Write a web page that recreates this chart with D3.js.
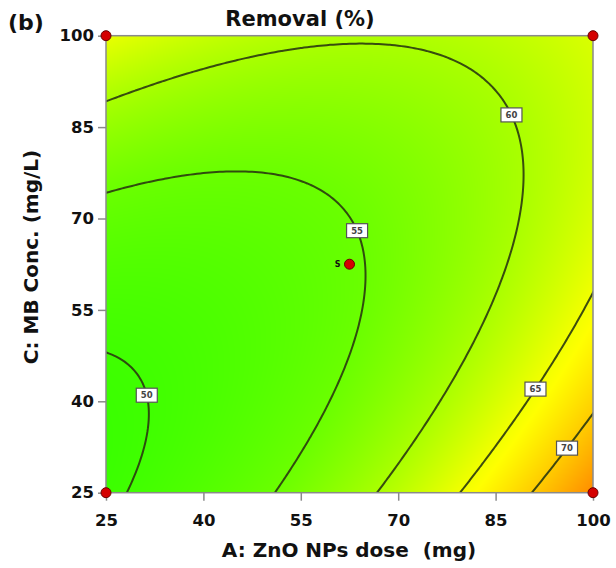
<!DOCTYPE html>
<html>
<head>
<meta charset="utf-8">
<script src="https://cdn.jsdelivr.net/npm/d3@7"></script>
<style>
  body { margin: 0; background: #fff; }
  svg { display: block; }
  text { font-family: "DejaVu Sans", sans-serif; font-weight: bold; }
</style>
</head>
<body>
<div id="area"></div>
<script>
// contour levels and axis ticks
var levels = [50, 55, 60, 65, 70];
var xTicks = [25, 40, 55, 70, 85, 100];
var yTicks = [25, 40, 55, 70, 85, 100];

// fitted quadratic model in coded units (a, c in -1..1), B held at centre
var modelTerms = ['1', 'A', 'C', 'A^2', 'C^2', 'AC'];
var modelCoef = [54.6, 6.02, 0.92, 3.6, 4.85, -6.6];

// where the level flags sit (data units, snapped to the line)
var labelA = [32.3, 64.1, 87.2, 90.7, 95.7];
var labelC = [41.0, 68.4, 87.0, 42.2, 32.5];

// design points shown on the slice
var designA = [25, 100, 25, 100, 62.5];
var designC = [25, 25, 100, 100, 62.5];
var designTag = ['', '', '', '', 'S'];

var width = 616, height = 568;
var x0 = 106, x1 = 593, y0 = 35.7, y1 = 492.7;

var x = d3.scaleLinear().domain([25, 100]).range([x0, x1]);
var y = d3.scaleLinear().domain([25, 100]).range([y1, y0]);
var coded = d3.scaleLinear().domain([25, 100]).range([-1, 1]);

function removal(A, C) {
  var a = coded(A), c = coded(C);
  var t = [1, a, c, a * a, c * c, a * c];
  var s = 0;
  for (var i = 0; i < t.length; i++) s += modelCoef[i] * t[i];
  return s;
}

var hue = d3.scaleLinear().domain([49.5, 55, 60, 65, 70, 74.7]).range([106, 95, 80, 63, 48, 33]);
function colorOf(v) {
  return d3.hsl(hue(v), 1, 0.5).rgb();
}

var svg = d3.select('#area').append('svg')
  .attr('width', width).attr('height', height);

// heat map, painted pixel by pixel then placed as an image
var cw = Math.round(x1 - x0), ch = Math.round(y1 - y0);
var canvas = document.createElement('canvas');
canvas.width = cw; canvas.height = ch;
var ctx = canvas.getContext('2d');
var img = ctx.createImageData(cw, ch);
for (var j = 0; j < ch; j++) {
  var C = y.invert(y0 + j + 0.5);
  for (var i = 0; i < cw; i++) {
    var A = x.invert(x0 + i + 0.5);
    var col = colorOf(removal(A, C));
    var k = (j * cw + i) * 4;
    img.data[k] = col.r; img.data[k + 1] = col.g; img.data[k + 2] = col.b; img.data[k + 3] = 255;
  }
}
ctx.putImageData(img, 0, 0);

svg.append('image')
  .attr('x', x0).attr('y', y0)
  .attr('width', x1 - x0).attr('height', y1 - y0)
  .attr('preserveAspectRatio', 'none')
  .attr('href', canvas.toDataURL());

svg.append('clipPath').attr('id', 'plotclip')
  .append('rect')
  .attr('x', x0).attr('y', y0)
  .attr('width', x1 - x0).attr('height', y1 - y0);

// contour lines, grid padded past the frame so no edge rings show
var g0 = 20, gStep = 0.5, gn = 171;
var values = new Array(gn * gn);
for (var j = 0; j < gn; j++) {
  for (var i = 0; i < gn; i++) {
    values[j * gn + i] = removal(g0 + i * gStep, g0 + j * gStep);
  }
}
var contours = d3.contours().size([gn, gn]).thresholds(levels)(values);

var toPlot = d3.geoTransform({
  point: function(px, py) {
    this.stream.point(x(g0 + (px - 0.5) * gStep), y(g0 + (py - 0.5) * gStep));
  }
});
var path = d3.geoPath(toPlot);

var lines = svg.append('g').attr('clip-path', 'url(#plotclip)');
lines.selectAll('path')
  .data(contours)
  .enter().append('path')
  .attr('d', path)
  .attr('fill', 'none')
  .attr('stroke', '#2a3810')
  .attr('stroke-width', 2)
  .attr('stroke-opacity', 0.9);

// level flags
var flags = svg.append('g');
levels.forEach(function(lv, li) {
  var tx = x(labelA[li]), ty = y(labelC[li]);
  var best = null, bd = Infinity;
  contours[li].coordinates.forEach(function(poly) {
    poly.forEach(function(ring) {
      ring.forEach(function(p) {
        var px = x(g0 + (p[0] - 0.5) * gStep), py = y(g0 + (p[1] - 0.5) * gStep);
        var d = (px - tx) * (px - tx) + (py - ty) * (py - ty);
        if (d < bd) { bd = d; best = [px, py]; }
      });
    });
  });
  if (!best) best = [tx, ty];
  var fg = flags.append('g').attr('transform', 'translate(' + best[0] + ',' + best[1] + ')');
  fg.append('rect')
    .attr('x', -10.5).attr('y', -7).attr('width', 21).attr('height', 14)
    .attr('fill', '#fff').attr('stroke', '#555').attr('stroke-width', 1.2);
  fg.append('text')
    .attr('text-anchor', 'middle').attr('dy', '0.35em')
    .attr('font-size', '8.5px').attr('font-weight', 'normal')
    .attr('fill', '#444')
    .text(lv);
});

// frame
svg.append('rect')
  .attr('x', x0).attr('y', y0)
  .attr('width', x1 - x0).attr('height', y1 - y0)
  .attr('fill', 'none').attr('stroke', '#8a8a8a').attr('stroke-width', 1.5);

// axes
var xAxis = svg.append('g').attr('transform', 'translate(0,' + y1 + ')')
  .call(d3.axisBottom(x).tickValues(xTicks).tickSize(8).tickPadding(14));
var yAxis = svg.append('g').attr('transform', 'translate(' + x0 + ',0)')
  .call(d3.axisLeft(y).tickValues(yTicks).tickSize(8).tickPadding(4));
[xAxis, yAxis].forEach(function(ax) {
  ax.select('.domain').remove();
  ax.selectAll('.tick line').attr('stroke', '#8a8a8a').attr('stroke-width', 1.5);
  ax.selectAll('.tick text')
    .attr('font-family', '"DejaVu Sans", sans-serif')
    .attr('font-weight', 'bold')
    .attr('font-size', '16.5px')
    .attr('fill', '#111');
});

// design points
var pts = svg.append('g');
designA.forEach(function(A, i) {
  pts.append('circle')
    .attr('cx', x(A)).attr('cy', y(designC[i])).attr('r', 5)
    .attr('fill', '#d40000').attr('stroke', '#6a0000').attr('stroke-width', 1);
  if (designTag[i]) {
    pts.append('text')
      .attr('x', x(A) - 9).attr('y', y(designC[i]))
      .attr('dy', '0.35em').attr('text-anchor', 'end')
      .attr('font-size', '8px').attr('fill', '#111')
      .text(designTag[i]);
  }
});

// titles
svg.append('text')
  .attr('x', 300).attr('y', 26)
  .attr('text-anchor', 'middle')
  .attr('font-size', '21px').attr('fill', '#111')
  .text('Removal (%)');

svg.append('text')
  .attr('x', 8).attr('y', 30)
  .attr('font-size', '22px').attr('fill', '#111')
  .text('(b)');

svg.append('text')
  .attr('x', 349).attr('y', 557)
  .attr('text-anchor', 'middle')
  .attr('font-size', '20px').attr('fill', '#111')
  .attr('xml:space', 'preserve')
  .text('A: ZnO NPs dose  (mg)');

svg.append('text')
  .attr('transform', 'translate(38,257) rotate(-90)')
  .attr('text-anchor', 'middle')
  .attr('font-size', '20px').attr('fill', '#111')
  .text('C: MB Conc. (mg/L)');
</script>
</body>
</html>
